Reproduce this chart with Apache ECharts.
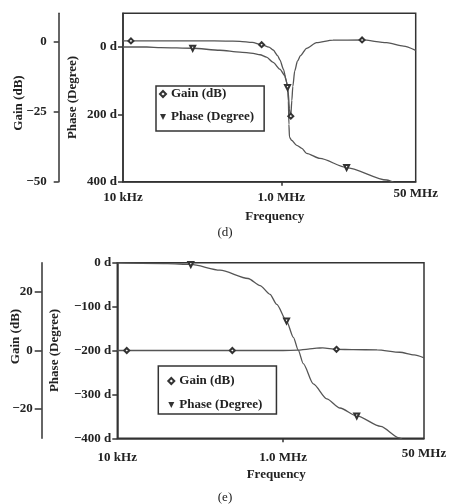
<!DOCTYPE html>
<html>
<head>
<meta charset="utf-8">
<script src="https://cdn.jsdelivr.net/npm/echarts@6.0.0/dist/echarts.min.js"></script>
<style>
  html, body { margin: 0; padding: 0; background: #fff; }
  #chart { width: 450px; height: 504px; }
</style>
</head>
<body>
<div id="chart"></div>
<script>
// x ticks shared by both panels
var xTickVals = [1e4, 1e6, 5e7];
var xTickLabels = ['10 kHz', '1.0 MHz', '50 MHz'];

// panel (d): notch
var gainFreqD = [1e4, 1.26e4, 3e4, 1e5, 2e5, 3e5, 4.3e5, 5.65e5, 7e5, 7.9e5, 9e5, 9.6e5, 1.07e6, 1.15e6, 1.22e6, 1.27e6, 1.30e6, 1.32e6, 1.36e6, 1.40e6, 1.48e6, 1.60e6, 1.75e6, 2.09e6, 2.79e6, 4.5e6, 1.05e7, 2.15e7, 3.5e7, 5e7];
var gainD = [0.25, 0.25, 0.25, 0.25, 0.2, 0.1, -0.3, -1.1, -2.0, -3.0, -5.0, -6.5, -10, -13.7, -17.5, -24, -27, -26.6, -21, -16, -10.5, -7, -5, -2.4, -0.4, 0.5, 0.6, -0.4, -1.6, -3.1];
var gainMarksD = [1, 7, 17, 26];
var phaseFreqD = [1e4, 2e4, 3e4, 7.6e4, 1.68e5, 3e5, 4.4e5, 5.4e5, 6.5e5, 7.9e5, 9.6e5, 1.11e6, 1.17e6, 1.20e6, 1.23e6, 1.25e6, 1.27e6, 1.35e6, 1.57e6, 1.82e6, 2.09e6, 3.08e6, 6.7e6, 2.15e7, 3e7];
var phaseD = [0, 0, 2, 3.8, 9.7, 15, 19, 23, 30, 46, 66, 85, 105, 120, 160, 230, 268, 277, 292, 301, 316, 331, 358, 395, 410];
var phaseMarksD = [3, 13, 22];
var gainTicksD = [-50, -25, 0];
var phaseTicksD = [0, 200, 400];

// panel (e): low pass
var gainFreqE = [1e4, 1.3e4, 1e5, 2.44e5, 5e5, 1e6, 1.5e6, 2e6, 2.54e6, 3e6, 4.4e6, 7e6, 1.36e7, 2.56e7, 3.8e7, 5e7];
var gainE = [0, 0, 0, 0, 0, 0, 0.1, 0.5, 0.8, 0.9, 0.4, 0.3, 0.2, -0.6, -1.5, -2.5];
var gainMarksE = [1, 3, 10];
var phaseFreqE = [1e4, 4e4, 7.7e4, 1.73e5, 3.78e5, 5.27e5, 6.95e5, 8.38e5, 1.10e6, 1.33e6, 1.52e6, 1.75e6, 2.31e6, 3.36e6, 4.85e6, 7.72e6, 1.5e7, 2.52e7, 3e7];
var phaseE = [-0.5, -2, -4, -17, -36, -52, -72, -95, -133, -170, -199, -230, -276, -310, -331, -349, -373, -399, -410];
var phaseMarksE = [2, 8, 15];
var gainTicksE = [-20, 0, 20];
var phaseTicksE = [-400, -300, -200, -100, 0];

var FONT = 'Liberation Serif';
var INK = '#333';
var TEXT = { fontFamily: FONT, fontSize: 13, fontWeight: 'bold', color: '#222' };

function minus(v) {
  return v < 0 ? '\u2212' + Math.abs(v) : String(v);
}

// the last label (50 MHz) sits a little higher than the others
function freqLabel(v) {
  var best = 0;
  for (var i = 1; i < xTickVals.length; i++) {
    if (Math.abs(Math.log10(v / xTickVals[i])) < Math.abs(Math.log10(v / xTickVals[best]))) best = i;
  }
  return (best === xTickVals.length - 1 ? '{u|' : '{n|') + xTickLabels[best] + '}';
}

function points(freq, vals, marks, symbol, rotate) {
  return freq.map(function (f, i) {
    var on = marks.indexOf(i) >= 0;
    return { value: [f, vals[i]], symbol: on ? symbol : 'none', symbolRotate: rotate };
  });
}

function freqAxis(grid, margin, gap) {
  return {
    type: 'log', logBase: 10, gridIndex: grid, min: 1e4, max: 5e7,
    name: 'Frequency', nameLocation: 'middle', nameGap: gap, nameMoveOverlap: false,
    nameTextStyle: Object.assign({ padding: [0, 0, 0, 11] }, TEXT),
    axisLine: { onZero: false, lineStyle: { color: INK, width: 1.5 } },
    axisTick: { customValues: [1e6], length: 4, lineStyle: { color: INK, width: 1.5 } },
    axisLabel: Object.assign({
      customValues: xTickVals, formatter: freqLabel, margin: margin,
      rich: {
        n: Object.assign({ lineHeight: 22 }, TEXT),
        u: Object.assign({ lineHeight: 14 }, TEXT)
      }
    }, TEXT),
    splitLine: { show: false },
    minorTick: { show: false }
  };
}

function valAxis(o) {
  return {
    type: 'value', gridIndex: o.grid, position: 'left', offset: o.offset || 0,
    min: o.min, max: o.max, inverse: !!o.inverse,
    name: o.name, nameLocation: 'middle', nameRotate: 90, nameGap: o.gap, nameMoveOverlap: false,
    nameTextStyle: Object.assign({ padding: o.pad || 0 }, TEXT),
    axisLine: { show: true, onZero: false, lineStyle: { color: INK, width: 1.5 } },
    axisTick: { show: true, customValues: o.ticks, length: o.tick, lineStyle: { color: INK, width: 1.5 } },
    axisLabel: Object.assign({ customValues: o.ticks, formatter: o.fmt, margin: o.margin }, TEXT),
    splitLine: { show: false }
  };
}

function curve(name, xi, yi, data) {
  return {
    name: name, type: 'line', xAxisIndex: xi, yAxisIndex: yi, data: data,
    showSymbol: true, symbolSize: 5, smooth: 0.25, smoothMonotone: 'x',
    lineStyle: { color: '#555', width: 1.3 },
    itemStyle: { color: '#333', borderWidth: 1 },
    emphasis: { disabled: true }, animation: false
  };
}

function legendBox(left, top, pad, gap) {
  return {
    left: left, top: top, orient: 'vertical', padding: pad, itemGap: gap,
    itemWidth: 6, itemHeight: 6, borderColor: INK, borderWidth: 1.5,
    textStyle: Object.assign({ lineHeight: 14 }, TEXT),
    data: [
      { name: 'Gain (dB)', icon: 'emptyDiamond' },
      { name: 'Phase (Degree)', icon: 'path://M0,0L10,0L5,10Z' }
    ]
  };
}

var myChart = echarts.init(document.getElementById('chart'));

var option = {
  backgroundColor: '#fff',
  animation: false,
  grid: [
    { left: 123, top: 13.3, width: 292.7, height: 168.4, show: true, borderColor: INK, borderWidth: 1.5, outerBoundsMode: 'none' },
    { left: 117.3, top: 262.7, width: 306.7, height: 175.6, show: true, borderColor: INK, borderWidth: 1.5, outerBoundsMode: 'none' }
  ],
  xAxis: [freqAxis(0, 4.5, 28), freqAxis(1, 8, 30)],
  yAxis: [
    valAxis({ grid: 0, min: -100, max: 400, inverse: true, name: 'Phase (Degree)', gap: 44, ticks: phaseTicksD, tick: 5, margin: 6,
      fmt: function (v) { return v + ' d'; } }),
    valAxis({ grid: 0, offset: 64.3, min: -50, max: 10.1, name: 'Gain (dB)', gap: 34, ticks: gainTicksD, tick: 5, margin: 12,
      pad: [0, 11, 0, 0], fmt: minus }),
    valAxis({ grid: 1, min: -400, max: 0, name: 'Phase (Degree)', gap: 56, ticks: phaseTicksE, tick: 5, margin: 6,
      fmt: function (v) { return minus(v) + ' d'; } }),
    valAxis({ grid: 1, offset: 75.6, min: -30, max: 30, name: 'Gain (dB)', gap: 20, ticks: gainTicksE, tick: 7, margin: 9,
      pad: [0, 0, 0, 28], fmt: minus })
  ],
  legend: [
    legendBox(156, 86, [1, 10, 7, 3], 9),
    legendBox(158.3, 366, [8, 14, 2, 9], 10)
  ],
  series: [
    curve('Gain (dB)', 0, 1, points(gainFreqD, gainD, gainMarksD, 'emptyDiamond', 0)),
    curve('Phase (Degree)', 0, 0, points(phaseFreqD, phaseD, phaseMarksD, 'emptyTriangle', 180)),
    curve('Gain (dB)', 1, 3, points(gainFreqE, gainE, gainMarksE, 'emptyDiamond', 0)),
    curve('Phase (Degree)', 1, 2, points(phaseFreqE, phaseE, phaseMarksE, 'emptyTriangle', 180))
  ],
  graphic: [
    { type: 'text', x: 225, y: 233, style: { text: '(d)', font: '13px "Liberation Serif"', fill: '#222', align: 'center', verticalAlign: 'middle' } },
    { type: 'text', x: 225, y: 498, style: { text: '(e)', font: '13px "Liberation Serif"', fill: '#222', align: 'center', verticalAlign: 'middle' } }
  ]
};

myChart.setOption(option);
</script>
</body>
</html>
